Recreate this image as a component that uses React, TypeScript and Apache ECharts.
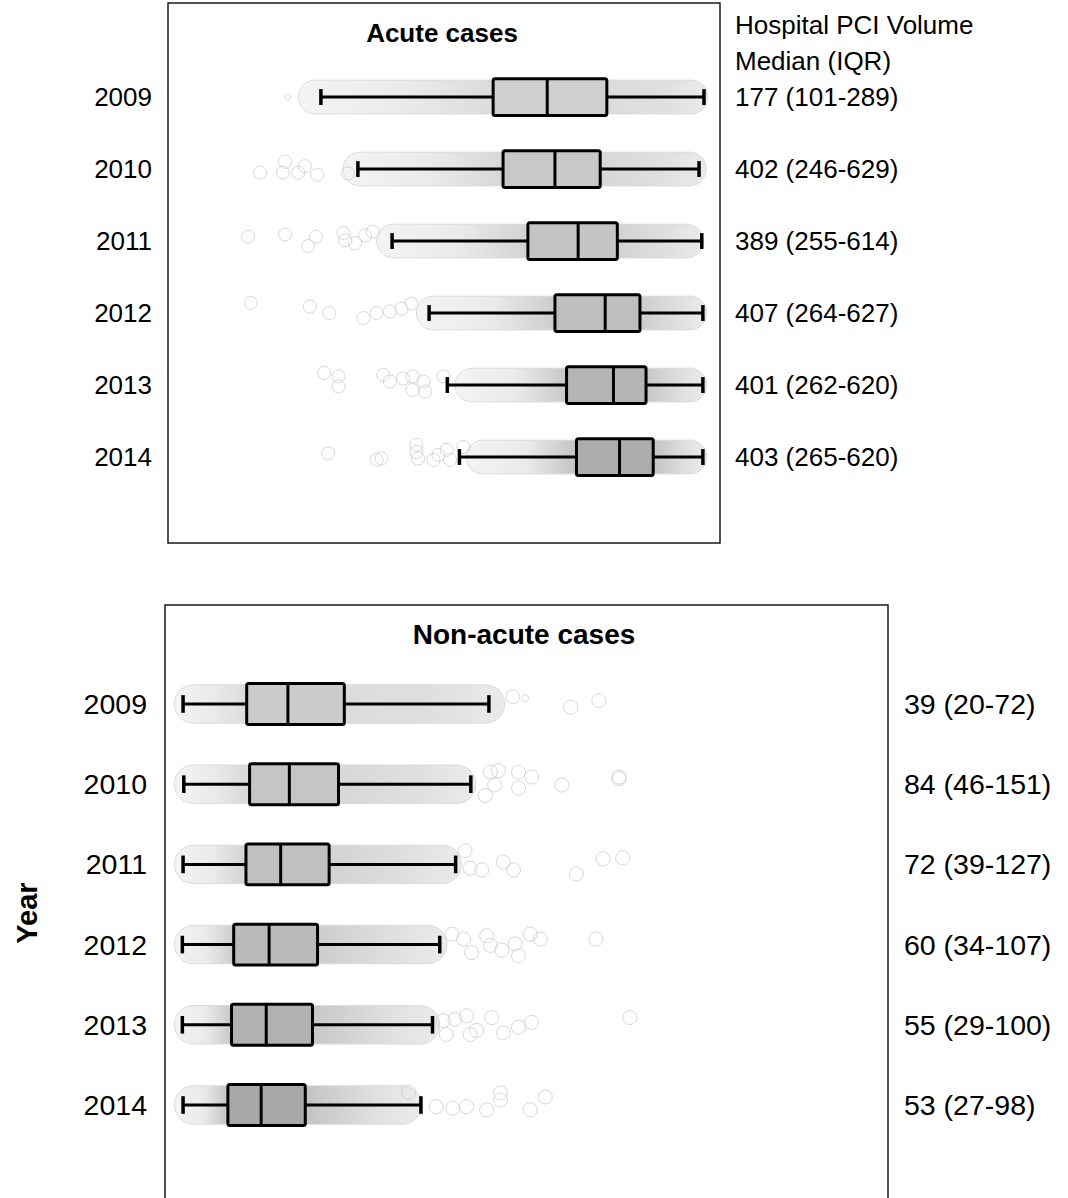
import React, { useEffect, useRef } from "react";
import * as echarts from "echarts";

// ---------------- DATA ----------------
const YEARS = ["2009", "2010", "2011", "2012", "2013", "2014"];
const HEADER = ["Hospital PCI Volume", "Median (IQR)"];
const ACUTE_LABELS = ["177 (101-289)", "402 (246-629)", "389 (255-614)", "407 (264-627)", "401 (262-620)", "403 (265-620)"];
const NONACUTE_LABELS = ["39 (20-72)", "84 (46-151)", "72 (39-127)", "60 (34-107)", "55 (29-100)", "53 (27-98)"];

// box stats on a relative 0-100 scale: [low whisker, Q1, median, Q3, high whisker]
const ACUTE_BOX = [
  [27.7, 58.9, 68.7, 79.5, 97.1],
  [34.4, 60.7, 70.1, 78.3, 96.2],
  [40.6, 65.2, 74.3, 81.4, 96.7],
  [47.3, 70.1, 79.2, 85.5, 96.9],
  [50.6, 72.2, 80.7, 86.6, 96.9],
  [52.8, 74.0, 81.8, 87.9, 96.9],
];
const NONACUTE_BOX = [
  [2.5, 11.3, 17.0, 24.8, 44.8],
  [2.6, 11.7, 17.2, 24.0, 42.3],
  [2.5, 11.2, 16.0, 22.7, 40.2],
  [2.4, 9.5, 14.4, 21.1, 38.0],
  [2.4, 9.2, 14.0, 20.4, 37.0],
  [2.5, 8.7, 13.3, 19.4, 35.4],
];
// extent of the dense jittered cloud of hospitals: [start, end]
const ACUTE_CLOUD = [[23.6, 97.8], [31.7, 97.5], [37.8, 97.0], [45.0, 97.6], [52.0, 97.6], [54.0, 97.6]];
const NONACUTE_CLOUD = [[1.3, 47.0], [1.3, 43.0], [1.3, 41.0], [1.3, 39.0], [1.3, 38.0], [1.3, 35.5]];

// sparse individual hospitals: [row (1 = 2009), value, vertical jitter]
const ACUTE_POINTS = [
  [2, 16.7, 0.05], [2, 20.8, 0.05], [2, 21.2, -0.1], [2, 23.6, 0.05], [2, 24.8, -0.04], [2, 27.0, 0.08], [2, 32.6, 0.06],
  [3, 14.5, -0.06], [3, 21.2, -0.09], [3, 25.4, 0.07], [3, 26.8, -0.06], [3, 31.8, -0.11], [3, 32.1, -0.01], [3, 33.9, 0.03], [3, 35.7, -0.08], [3, 37.1, -0.13],
  [4, 15.0, -0.14], [4, 25.7, -0.09], [4, 29.2, 0], [4, 35.4, 0.07], [4, 37.8, 0], [4, 40.2, -0.02], [4, 42.3, -0.06], [4, 44.1, -0.13],
  [5, 28.3, -0.17], [5, 30.9, -0.12], [5, 30.9, 0.02], [5, 39.0, -0.14], [5, 40.2, -0.05], [5, 42.6, -0.09], [5, 44.3, -0.12], [5, 44.3, 0.07], [5, 46.3, -0.05], [5, 46.6, 0.09], [5, 49.9, -0.12],
  [6, 29.0, -0.05], [6, 37.8, 0.04], [6, 38.7, 0.02], [6, 45.0, -0.17], [6, 45.0, -0.07], [6, 45.3, 0.02], [6, 48.1, 0.04], [6, 49.0, -0.03], [6, 50.5, -0.1], [6, 51.1, 0.04], [6, 53.5, -0.14],
];
const ACUTE_SMALL_POINTS = [[1, 21.7, 0]];
const NONACUTE_POINTS = [
  [1, 48.1, -0.09], [1, 56.1, 0.04], [1, 60.0, -0.04],
  [2, 45.0, -0.15], [2, 45.6, 0.01], [2, 44.3, 0.14], [2, 48.9, -0.15], [2, 48.9, 0.05], [2, 50.7, -0.09], [2, 54.9, 0.01], [2, 62.8, -0.07], [2, 62.8, -0.09], [2, 46.1, -0.17],
  [3, 41.5, -0.17], [3, 42.2, 0.05], [3, 43.8, 0.07], [3, 46.8, -0.03], [3, 48.2, 0.07], [3, 56.9, 0.12], [3, 60.6, -0.07], [3, 63.3, -0.08],
  [4, 39.7, -0.13], [4, 41.3, -0.07], [4, 42.4, 0.1], [4, 44.5, -0.11], [4, 45.0, 0.01], [4, 46.6, 0.07], [4, 48.4, -0.01], [4, 48.9, 0.14], [4, 50.5, -0.13], [4, 51.9, -0.07], [4, 59.6, -0.07],
  [5, 38.5, -0.05], [5, 38.9, 0.12], [5, 40.1, -0.07], [5, 41.7, -0.11], [5, 42.2, 0.12], [5, 43.1, 0.07], [5, 45.2, -0.09], [5, 46.8, 0.1], [5, 48.9, 0.03], [5, 50.7, -0.03], [5, 64.3, -0.09],
  [6, 33.7, -0.16], [6, 37.5, 0.02], [6, 39.8, 0.04], [6, 41.7, 0.02], [6, 44.5, 0.06], [6, 46.4, -0.15], [6, 46.4, -0.06], [6, 50.5, 0.06], [6, 52.6, -0.1],
];
const NONACUTE_SMALL_POINTS = [[1, 49.8, -0.07]];

// ---------------- STYLE ----------------
const FONT = "'Liberation Sans', Arial, Helvetica, sans-serif";
const ACUTE_FILL = ["#cfcfcf", "#c8c8c8", "#c4c4c4", "#bebebe", "#b5b5b5", "#acacac"];
const NONACUTE_FILL = ["#cbcbcb", "#c5c5c5", "#c1c1c1", "#bababa", "#b1b1b1", "#a8a8a8"];
const CIRCLE = "#cccccc";

function boxSeries(box: number[][], fills: string[], xi: number) {
  return {
    type: "custom",
    xAxisIndex: xi,
    yAxisIndex: xi * 2,
    z: 10,
    data: box.map((b, i) => [i + 1, ...b]),
    renderItem: (params: any, api: any) => {
      const r = api.value(0);
      const lo = api.coord([api.value(1), r]);
      const q1 = api.coord([api.value(2), r]);
      const md = api.coord([api.value(3), r]);
      const q3 = api.coord([api.value(4), r]);
      const hi = api.coord([api.value(5), r]);
      const unit = Math.abs(api.size([0, 1])[1]);
      const bh = unit * 0.51;
      const ch = unit * 0.22;
      const y = lo[1];
      const ls = { stroke: "#000", lineWidth: 3, lineCap: "butt" };
      return {
        type: "group",
        children: [
          { type: "line", shape: { x1: lo[0], y1: y, x2: q1[0], y2: y }, style: ls },
          { type: "line", shape: { x1: q3[0], y1: y, x2: hi[0], y2: y }, style: ls },
          { type: "line", shape: { x1: lo[0], y1: y - ch / 2, x2: lo[0], y2: y + ch / 2 }, style: { ...ls, lineWidth: 3.5 } },
          { type: "line", shape: { x1: hi[0], y1: y - ch / 2, x2: hi[0], y2: y + ch / 2 }, style: { ...ls, lineWidth: 3.5 } },
          {
            type: "rect",
            shape: { x: q1[0], y: y - bh / 2, width: q3[0] - q1[0], height: bh, r: 2 },
            style: { fill: fills[params.dataIndex], stroke: "#000", lineWidth: 3 },
          },
          { type: "line", shape: { x1: md[0], y1: y - bh / 2, x2: md[0], y2: y + bh / 2 }, style: ls },
        ],
      };
    },
  };
}

function cloudSeries(cloud: number[][], box: number[][], xi: number, h: number) {
  return {
    type: "custom",
    xAxisIndex: xi,
    yAxisIndex: xi * 2,
    z: 2,
    data: cloud.map((c, i) => [i + 1, c[0], c[1], box[i][1], box[i][3]]),
    renderItem: (params: any, api: any) => {
      const r = api.value(0);
      const s = api.value(1), e = api.value(2), q1 = api.value(3), q3 = api.value(4);
      const a = api.coord([s, r]);
      const b = api.coord([e, r]);
      const unit = Math.abs(api.size([0, 1])[1]);
      const bh = unit * h;
      const p1 = Math.max(0, Math.min(1, (q1 - s) / (e - s)));
      const p3 = Math.max(0, Math.min(1, (q3 - s) / (e - s)));
      const k = params.dataIndex;
      const dark = 220 - k * 5;
      const mid = `rgb(${dark},${dark},${dark})`;
      return {
        type: "rect",
        shape: { x: a[0], y: a[1] - bh / 2, width: b[0] - a[0], height: bh, r: bh / 2 },
        style: {
          fill: new echarts.graphic.LinearGradient(0, 0, 1, 0, [
            { offset: 0, color: "#f4f4f4" },
            { offset: p1 * 0.55, color: "#eaeaea" },
            { offset: p1, color: mid },
            { offset: p3, color: mid },
            { offset: Math.min(1, p3 + (1 - p3) * 0.6), color: "#e0e0e0" },
            { offset: 1, color: "#ebebeb" },
          ]),
          stroke: "#dcdcdc",
          lineWidth: 1,
        },
      };
    },
  };
}

function pointSeries(points: number[][], xi: number, size: number) {
  return {
    type: "scatter",
    xAxisIndex: xi,
    yAxisIndex: xi * 2,
    z: 3,
    symbol: "circle",
    symbolSize: size,
    silent: true,
    itemStyle: { color: "rgba(0,0,0,0)", borderColor: CIRCLE, borderWidth: 1 },
    data: points.map((p) => [p[1], p[0] + p[2]]),
  };
}

function yAxes(gi: number, min: number, max: number, left: string[], right: Record<string, string>, fs: number, lm: number, rm: number) {
  const common = {
    gridIndex: gi,
    type: "value",
    inverse: true,
    min,
    max,
    axisLine: { show: false },
    axisTick: { show: false },
    splitLine: { show: false },
  };
  return [
    {
      ...common,
      position: "left",
      axisLabel: {
        customValues: left.map((_, i) => i + 1),
        formatter: (v: number) => left[Math.round(v) - 1] ?? "",
        margin: lm,
        fontSize: fs,
        color: "#000",
        fontFamily: FONT,
      },
    },
    {
      ...common,
      position: "right",
      axisLabel: {
        customValues: Object.keys(right).map(Number),
        formatter: (v: number) => right[String(v)] ?? "",
        margin: rm,
        fontSize: fs,
        color: "#000",
        fontFamily: FONT,
      },
    },
  ];
}

export default function App() {
  const ref = useRef<HTMLDivElement>(null);
  useEffect(() => {
    if (!ref.current) return;
    const chart = echarts.init(ref.current, null, { renderer: "svg" });
    const acuteRight: Record<string, string> = { "0": HEADER[0], "0.5": HEADER[1] };
    ACUTE_LABELS.forEach((l, i) => (acuteRight[String(i + 1)] = l));
    const nonRight: Record<string, string> = {};
    NONACUTE_LABELS.forEach((l, i) => (nonRight[String(i + 1)] = l));

    const option: any = {
      animation: false,
      backgroundColor: "#fff",
      grid: [
        { left: 168, top: 3, width: 552, height: 540, show: true, borderColor: "#1a1a1a", borderWidth: 1.5, backgroundColor: "transparent", outerBoundsMode: "none", containLabel: false },
        { left: 165, top: 605, width: 723, height: 613, show: true, borderColor: "#1a1a1a", borderWidth: 1.5, backgroundColor: "transparent", outerBoundsMode: "none", containLabel: false },
      ],
      xAxis: [
        { gridIndex: 0, type: "value", min: 0, max: 100, show: false },
        { gridIndex: 1, type: "value", min: 0, max: 100, show: false },
      ],
      yAxis: [
        ...yAxes(0, -0.306, 7.194, YEARS, acuteRight, 26, 16, 15),
        ...yAxes(1, -0.234, 7.409, YEARS, nonRight, 28.5, 18, 16),
      ],
      series: [
        cloudSeries(ACUTE_CLOUD, ACUTE_BOX, 0, 0.47),
        pointSeries(ACUTE_POINTS, 0, 13),
        pointSeries(ACUTE_SMALL_POINTS, 0, 6),
        boxSeries(ACUTE_BOX, ACUTE_FILL, 0),
        cloudSeries(NONACUTE_CLOUD, NONACUTE_BOX, 1, 0.48),
        pointSeries(NONACUTE_POINTS, 1, 14),
        pointSeries(NONACUTE_SMALL_POINTS, 1, 7),
        boxSeries(NONACUTE_BOX, NONACUTE_FILL, 1),
      ],
      graphic: [
        { type: "text", x: 442, y: 33, z: 20, style: { text: "Acute cases", fontSize: 26, fontWeight: "bold", fontFamily: FONT, fill: "#000", textAlign: "center", textVerticalAlign: "middle" } },
        { type: "text", x: 524, y: 634, z: 20, style: { text: "Non-acute cases", fontSize: 28, fontWeight: "bold", fontFamily: FONT, fill: "#000", textAlign: "center", textVerticalAlign: "middle" } },
        { type: "text", x: 27, y: 913, z: 20, rotation: Math.PI / 2, style: { text: "Year", fontSize: 29, fontWeight: "bold", fontFamily: FONT, fill: "#000", textAlign: "center", textVerticalAlign: "middle" } },
      ],
    };
    chart.setOption(option);
    return () => chart.dispose();
  }, []);
  return <div ref={ref} style={{ position: "fixed", left: 0, top: 0, width: 1068, height: 1230, overflow: "hidden", background: "#fff" }} />;
}
